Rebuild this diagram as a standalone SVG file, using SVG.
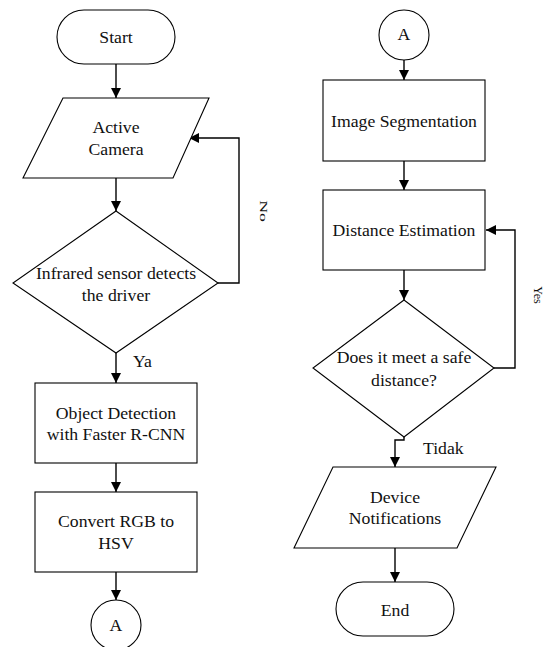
<svg xmlns="http://www.w3.org/2000/svg" width="546" height="647" viewBox="0 0 546 647">
<defs>
<marker id="arr" markerUnits="userSpaceOnUse" markerWidth="10" markerHeight="10" refX="10" refY="5" orient="auto" viewBox="0 0 10 10">
<path d="M0,0 L10,5 L0,10 z" fill="#000"/>
</marker>
<style>
.s{fill:#fff;stroke:#000;stroke-width:1.1}
.c{fill:none;stroke:#000;stroke-width:1.4;marker-end:url(#arr)}
.m{text-anchor:middle}
</style>
</defs>
<rect width="546" height="647" fill="#fff"/>
<g font-family="Liberation Serif, Tinos, Times New Roman, DejaVu Serif, serif" font-size="17.7" fill="#111">
<g id="connectors">
<path class="c" d="M116,64 V98"/>
<path class="c" d="M116,178 V211"/>
<path class="c" d="M218,283 H239 V138 H189"/>
<path class="c" d="M116,353 V383"/>
<path class="c" d="M116,463 V492"/>
<path class="c" d="M116,572 V600"/>
<path class="c" d="M404,60 V80"/>
<path class="c" d="M404,161 V190"/>
<path class="c" d="M404,270 V300"/>
<path class="c" d="M494,368 H515 V230 H486"/>
<path class="c" d="M404,437 V440 H395 V467"/>
<path class="c" d="M395,548 V582"/>
<text transform="translate(260,211) rotate(90) scale(1,0.6)" class="m">No</text>
<text transform="translate(534,295) rotate(90)" class="m" font-size="12">Yes</text>
<text x="133" y="367">Ya</text>
<text x="423" y="454">Tidak</text>
</g>
<g id="start">
<rect class="s" x="57" y="10" width="118" height="54" rx="27"/>
<text class="m" x="116" y="43">Start</text>
</g>
<g id="camera">
<polygon class="s" points="63,98 209,98 173,178 23,178"/>
<text class="m" x="116" y="133">Active</text>
<text class="m" x="116" y="155">Camera</text>
</g>
<g id="infrared">
<polygon class="s" points="116,211 218,283 116,353 13,283"/>
<text class="m" x="116" y="279">Infrared sensor detects</text>
<text class="m" x="116" y="301">the driver</text>
</g>
<g id="detection">
<rect class="s" x="35" y="383" width="162" height="80"/>
<text class="m" x="116" y="419">Object Detection</text>
<text class="m" x="116" y="440">with Faster R-CNN</text>
</g>
<g id="convert">
<rect class="s" x="35" y="492" width="162" height="80"/>
<text class="m" x="116" y="527">Convert RGB to</text>
<text class="m" x="116" y="549">HSV</text>
</g>
<g id="connectorA1">
<circle class="s" cx="116" cy="625" r="25"/>
<text class="m" x="116" y="631">A</text>
</g>
<g id="connectorA2">
<circle class="s" cx="404" cy="35" r="25"/>
<text class="m" x="404" y="40">A</text>
</g>
<g id="segmentation">
<rect class="s" x="323" y="80" width="162" height="81"/>
<text class="m" x="404" y="127">Image Segmentation</text>
</g>
<g id="distance">
<rect class="s" x="323" y="190" width="162" height="80"/>
<text class="m" x="404" y="236">Distance Estimation</text>
</g>
<g id="safe">
<polygon class="s" points="404,300 494,368 404,437 313,368"/>
<text class="m" x="404" y="363">Does it meet a safe</text>
<text class="m" x="404" y="386">distance?</text>
</g>
<g id="notifications">
<polygon class="s" points="333,467 496,467 457,548 294,548"/>
<text class="m" x="395" y="503">Device</text>
<text class="m" x="395" y="524">Notifications</text>
</g>
<g id="end">
<rect class="s" x="336" y="582" width="118" height="54" rx="27"/>
<text class="m" x="395" y="616">End</text>
</g>
</g>
</svg>
